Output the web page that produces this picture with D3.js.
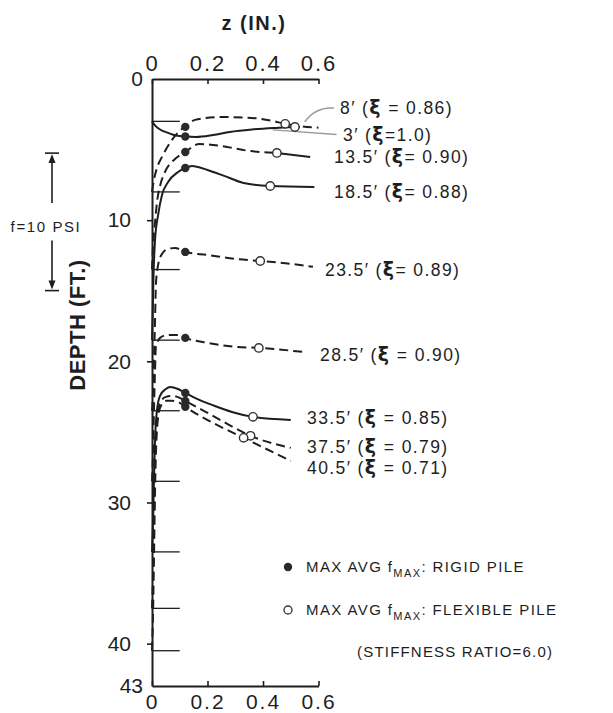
<!DOCTYPE html>
<html>
<head>
<meta charset="utf-8">
<script src="https://cdn.jsdelivr.net/npm/d3@7"></script>
<style>
  html, body { margin: 0; padding: 0; background: #fff; }
  svg { display: block; }
  text { font-family: "Liberation Sans", Arial, Helvetica, sans-serif; fill: #1e1e1e; }
</style>
</head>
<body>
<svg id="chart" width="613" height="713"></svg>
<script>
// Station depths along the pile (ft) and their ξ values
const depths = [3, 8, 13.5, 18.5, 23.5, 28.5, 33.5, 37.5, 40.5];
const depthNames = ["3′", "8′", "13.5′", "18.5′", "23.5′", "28.5′", "33.5′", "37.5′", "40.5′"];
const xiValues = ["=1.0", " = 0.86", "= 0.90", "= 0.88", "= 0.89", " = 0.90", " = 0.85", " = 0.79", " = 0.71"];

// f–z curves, [z (in.), f (psi)], f measured up from each station's depth
const curve3 = [[0, 0], [0.009, -0.26], [0.029, -0.59], [0.058, -0.84], [0.086, -1.03], [0.12, -1.10],
  [0.158, -1.13], [0.22, -0.99], [0.28, -0.77], [0.36, -0.59], [0.44, -0.48], [0.515, -0.41], [0.533, -0.41]];
const curve8 = [[0, 0], [0.007, 0.87], [0.018, 1.75], [0.036, 2.55], [0.072, 3.78], [0.108, 4.58], [0.12, 4.73],
  [0.155, 5.24], [0.25, 5.45], [0.36, 5.38], [0.45, 5.09], [0.48, 4.95], [0.6, 4.67]];
const curve13 = [[0, 0], [0.004, 1.79], [0.011, 3.46], [0.018, 4.9], [0.029, 6.08], [0.047, 7.1], [0.083, 8.04],
  [0.12, 8.55], [0.17, 9.13], [0.22, 9.06], [0.27, 8.92], [0.35, 8.63], [0.45, 8.48], [0.57, 8.19]];
const curve18 = [[0, 0], [0.002, 1.47], [0.005, 4.38], [0.011, 7.29], [0.022, 9.1], [0.036, 10.56], [0.058, 11.5],
  [0.094, 12.23], [0.12, 12.52], [0.144, 12.67], [0.2, 12.38], [0.26, 11.95], [0.33, 11.43], [0.426, 11.21], [0.585, 11.14]];
const curve23 = [[0, 0], [0.004, 1.51], [0.007, 3.69], [0.011, 6.6], [0.014, 9.15], [0.022, 10.6], [0.036, 11.4],
  [0.058, 11.77], [0.083, 11.84], [0.12, 11.55], [0.2, 11.33], [0.3, 11.04], [0.39, 10.89], [0.5, 10.68], [0.58, 10.47]];
const curve28 = [[0, 0], [0.004, 2.28], [0.007, 5.19], [0.011, 8.1], [0.014, 9.78], [0.029, 10.43], [0.058, 10.65],
  [0.094, 10.65], [0.12, 10.43], [0.2, 10.07], [0.31, 9.77], [0.385, 9.7], [0.545, 9.41]];
const curve33 = [[0, 0], [0.004, 2.33], [0.007, 5.24], [0.011, 8.15], [0.018, 10.33], [0.029, 11.35], [0.05, 11.85],
  [0.065, 12.0], [0.094, 11.85], [0.12, 11.56], [0.17, 11.05], [0.216, 10.69], [0.288, 10.18], [0.364, 9.82], [0.5, 9.6]];
const curve37 = [[0, 0], [0.004, 2.8], [0.007, 6.44], [0.011, 10.8], [0.018, 13.71], [0.029, 14.95], [0.05, 15.38],
  [0.072, 15.45], [0.1, 15.31], [0.12, 15.09], [0.18, 14.44], [0.245, 13.71], [0.355, 12.55], [0.5, 11.67]];
const curve40 = [[0, 0], [0.004, 2.97], [0.007, 6.61], [0.011, 11.7], [0.018, 16.07], [0.029, 17.67], [0.05, 18.17],
  [0.072, 18.17], [0.1, 18.03], [0.12, 17.74], [0.22, 16.57], [0.33, 15.48], [0.5, 13.81]];
const curves = [curve3, curve8, curve13, curve18, curve23, curve28, curve33, curve37, curve40];

// z beyond which each curve is drawn solid (0 = solid throughout, Infinity = dashed throughout)
const solidFrom = [0, Infinity, 0.45, 0, Infinity, Infinity, 0, Infinity, Infinity];

// Maximum average f: rigid pile (filled) and flexible pile (open)
const rigidZ = [0.12, 0.12, 0.12, 0.12, 0.12, 0.12, 0.12, 0.12, 0.12];
const rigidF = [-1.10, 4.73, 8.55, 12.52, 11.55, 10.43, 11.56, 15.09, 17.74];
const flexZ = [0.515, 0.48, 0.45, 0.426, 0.39, 0.385, 0.364, 0.355, 0.33];
const flexF = [-0.41, 4.95, 8.48, 11.21, 10.89, 9.7, 9.82, 12.55, 15.48];

// Axis ticks
const zTicks = [0, 0.2, 0.4, 0.6];
const depthTicks = [0, 10, 20, 30, 40, 43];

const svg = d3.select("#chart");
const ink = "#1e1e1e";

const x = d3.scaleLinear().domain([0, 0.6]).range([152, 318.5]);
const y = d3.scaleLinear().domain([0, 43]).range([79, 686]);
// vertical scale of f: 10 psi bar
const fPx = d3.scaleLinear().domain([0, 10]).range([0, 137.5]);
const py = (depth, f) => y(depth) - fPx(f);

// ----- axes -----
const fmtZ = d => d === 0 ? "0" : d3.format(".1f")(d);

const topAxis = svg.append("g").attr("transform", `translate(0,${y(0)})`)
  .call(d3.axisTop(x).tickValues(zTicks).tickFormat(fmtZ).tickSizeInner(-5).tickSizeOuter(0).tickPadding(8));
const bottomAxis = svg.append("g").attr("transform", `translate(0,${y(43)})`)
  .call(d3.axisBottom(x).tickValues(zTicks).tickFormat(fmtZ).tickSizeInner(-5).tickSizeOuter(0).tickPadding(8));
const leftAxis = svg.append("g").attr("transform", `translate(${x(0)},0)`)
  .call(d3.axisLeft(y).tickValues(depthTicks).tickSizeInner(5).tickSizeOuter(0).tickPadding(16));

[topAxis, bottomAxis, leftAxis].forEach(g => {
  g.attr("font-family", null).attr("font-size", null);
  g.select(".domain").attr("stroke", ink).attr("stroke-width", 2);
  g.selectAll(".tick line").attr("stroke", ink).attr("stroke-width", 1.6);
  g.selectAll(".tick text").attr("fill", ink);
});
topAxis.selectAll(".tick text").style("font-size", "22px").style("letter-spacing", "2px");
bottomAxis.selectAll(".tick text").style("font-size", "21px").style("letter-spacing", "2px");
leftAxis.selectAll(".tick text").style("font-size", "21px");
// corner values sit tight against the frame without tick marks
leftAxis.selectAll(".tick").filter(d => d === 0 || d === 43).each(function () {
  d3.select(this).select("line").remove();
  d3.select(this).select("text").attr("x", -9);
});

// axis titles
svg.append("text").attr("x", 254).attr("y", 30).attr("text-anchor", "middle")
  .style("font-size", "20px").style("letter-spacing", "1.5px").style("font-weight", "bold")
  .text("z (IN.)");
svg.append("text").attr("transform", "translate(85,325) rotate(-90)").attr("text-anchor", "middle")
  .style("font-size", "22px").style("font-weight", "bold").style("letter-spacing", "0.5px")
  .text("DEPTH (FT.)");

// ----- station datum marks -----
svg.append("g").selectAll("line").data(depths).join("line")
  .attr("x1", x(0)).attr("x2", x(0.1))
  .attr("y1", d => y(d)).attr("y2", d => y(d))
  .attr("stroke", ink).attr("stroke-width", 1.3);

// ----- f–z curves -----
const line = d3.line().curve(d3.curveMonotoneX);
const curveG = svg.append("g").attr("fill", "none").attr("stroke", ink).attr("stroke-width", 2);
curves.forEach((pts, i) => {
  const xy = p => [x(p[0]), py(depths[i], p[1])];
  const dashPart = pts.filter(p => p[0] <= solidFrom[i]);
  const solidPart = pts.filter(p => p[0] >= solidFrom[i]);
  if (dashPart.length > 1) {
    curveG.append("path").attr("d", line(dashPart.map(xy))).attr("stroke-dasharray", "9,5");
  }
  if (solidPart.length > 1) {
    curveG.append("path").attr("d", line(solidPart.map(xy)));
  }
});

// leader lines for the two shallow stations
svg.append("path")
  .attr("d", `M${x(0.55)},${py(8, 4.95) - 2} Q${x(0.59)},${py(8, 6.2)} ${x(0.656)},${py(8, 6.1)}`)
  .attr("fill", "none").attr("stroke", "#9a9a9a").attr("stroke-width", 1.5);
svg.append("line")
  .attr("x1", x(0.435)).attr("y1", py(3, -0.62))
  .attr("x2", x(0.665)).attr("y2", py(3, -0.95))
  .attr("stroke", "#9a9a9a").attr("stroke-width", 1.5);

// ----- max-f markers -----
svg.append("g").selectAll("circle").data(depths).join("circle")
  .attr("cx", (d, i) => x(rigidZ[i])).attr("cy", (d, i) => py(d, rigidF[i]))
  .attr("r", 4.2).attr("fill", "#2a2a2a");
svg.append("g").selectAll("circle").data(depths).join("circle")
  .attr("cx", (d, i) => x(flexZ[i])).attr("cy", (d, i) => py(d, flexF[i]))
  .attr("r", 4.2).attr("fill", "#fff").attr("stroke", "#333").attr("stroke-width", 1.4);

// ----- station labels -----
const labelAt = [[343, 135], [340, 108], [334, 157], [334, 192], [325, 270], [320, 355], [307, 418], [307, 447], [307, 468]];
depths.forEach((d, i) => {
  const t = svg.append("text").attr("x", labelAt[i][0]).attr("y", labelAt[i][1]).attr("dy", "0.36em")
    .style("font-size", "17.5px").style("letter-spacing", "1.4px");
  t.append("tspan").text(depthNames[i] + " (");
  t.append("tspan").style("font-weight", "bold").style("font-size", "19px").style("font-family", "'DejaVu Sans', sans-serif").text("ξ");
  t.append("tspan").text(xiValues[i] + ")");
});

// ----- f scale bar -----
const barX = 52;
const barTop = y(5.25);
const barBot = barTop + fPx(10);
const bar = svg.append("g").attr("stroke", ink).attr("fill", ink);
bar.append("line").attr("x1", barX - 7).attr("x2", barX + 7).attr("y1", barTop).attr("y2", barTop).attr("stroke-width", 1.6);
bar.append("line").attr("x1", barX - 7).attr("x2", barX + 7).attr("y1", barBot).attr("y2", barBot).attr("stroke-width", 1.6);
bar.append("line").attr("x1", barX).attr("x2", barX).attr("y1", barTop + 6).attr("y2", barTop + 50).attr("stroke-width", 1.6);
bar.append("line").attr("x1", barX).attr("x2", barX).attr("y1", barBot - 50).attr("y2", barBot - 6).attr("stroke-width", 1.6);
bar.append("path").attr("stroke", "none").attr("d", `M${barX},${barTop + 1}l-3.5,9h7z`);
bar.append("path").attr("stroke", "none").attr("d", `M${barX},${barBot - 1}l-3.5,-9h7z`);
svg.append("text").attr("x", 46).attr("y", (barTop + barBot) / 2 + 5).attr("dy", "0.36em").attr("text-anchor", "middle")
  .style("font-size", "15px").style("letter-spacing", "1.6px").text("f=10 PSI");

// ----- legend -----
const legend = svg.append("g");
legend.append("circle").attr("cx", 288).attr("cy", 567).attr("r", 4.2).attr("fill", "#2a2a2a");
legend.append("circle").attr("cx", 288).attr("cy", 610).attr("r", 4).attr("fill", "#fff").attr("stroke", "#333").attr("stroke-width", 1.3);
function legendText(yc, tail) {
  const t = legend.append("text").attr("x", 306).attr("y", yc).attr("dy", "0.36em")
    .style("font-size", "15px").style("letter-spacing", "1.4px");
  t.append("tspan").text("MAX AVG f");
  t.append("tspan").attr("dy", 5).style("font-size", "11px").text("MAX");
  t.append("tspan").attr("dy", -5).text(tail);
}
legendText(567, ": RIGID PILE");
legendText(610, ": FLEXIBLE PILE");
legend.append("text").attr("x", 357).attr("y", 652).attr("dy", "0.36em")
  .style("font-size", "15px").style("letter-spacing", "1.2px").text("(STIFFNESS RATIO=6.0)");
</script>
</body>
</html>
